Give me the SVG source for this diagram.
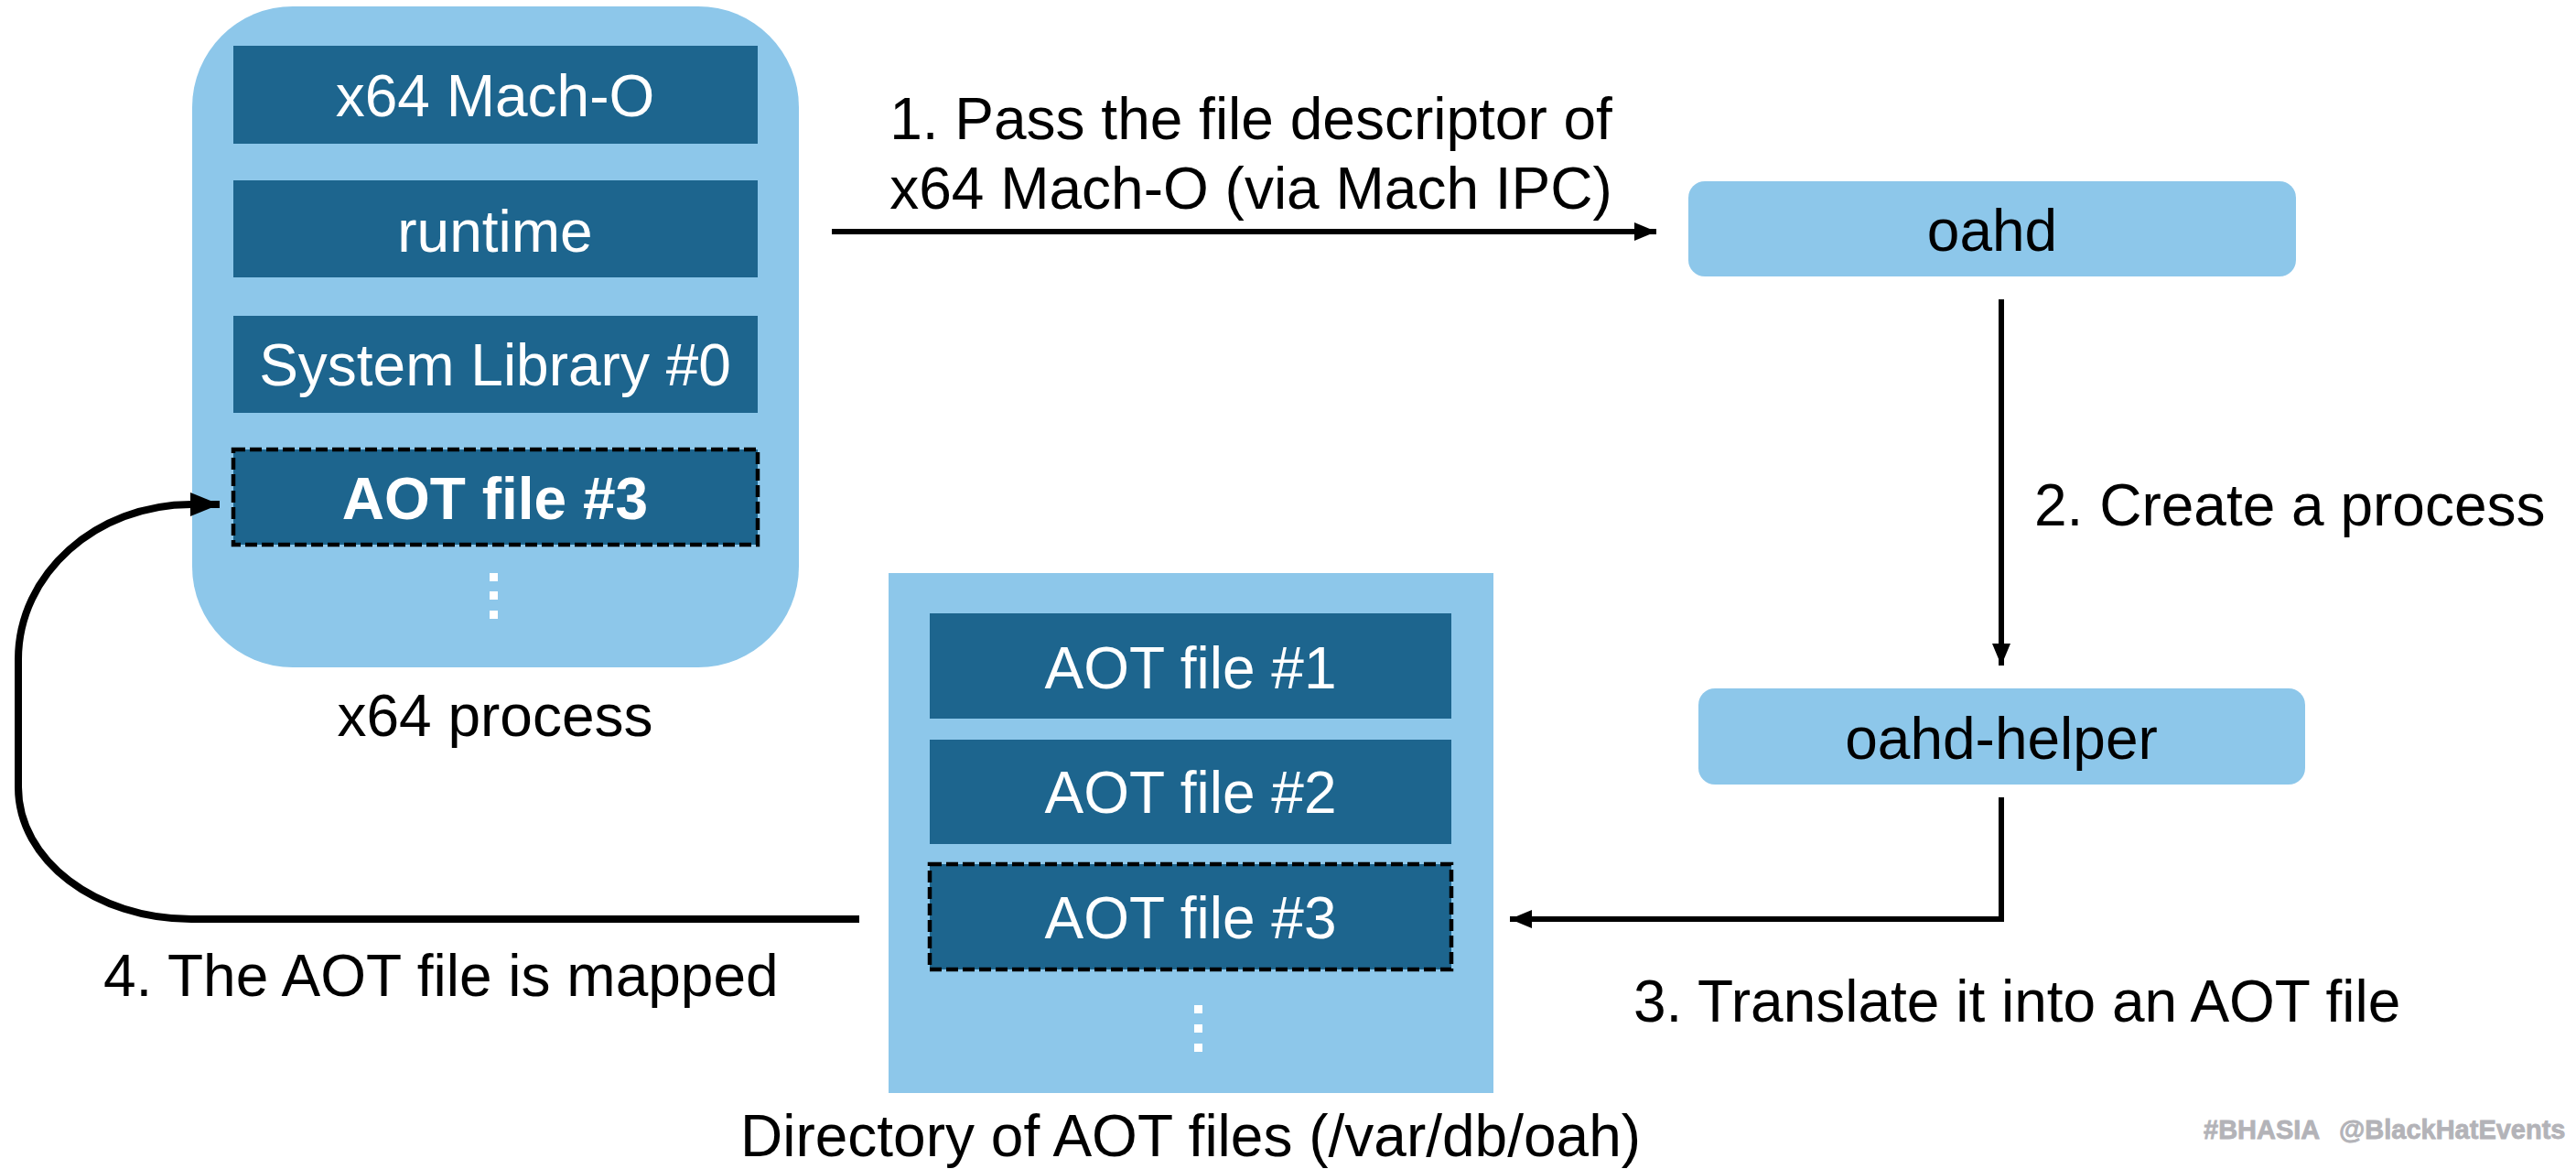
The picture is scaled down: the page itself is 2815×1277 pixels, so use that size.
<svg xmlns="http://www.w3.org/2000/svg" width="2815" height="1277" viewBox="0 0 2815 1277">
<style>
.light{fill:#8DC7EA}
.dark{fill:#1D658E}
.dash{fill:#1D658E;stroke:#000;stroke-width:4.5;stroke-dasharray:13 5}
.w{font-family:"Liberation Sans",Arial,sans-serif;font-size:64px;fill:#fff;text-anchor:middle}
.b{font-family:"Liberation Sans",Arial,sans-serif;font-size:64px;fill:#000}
.c{text-anchor:middle}
.dot{fill:#fff}
.line{fill:none;stroke:#000;stroke-width:6}
.wm{font-family:"Liberation Sans",Arial,sans-serif;font-size:29px;font-weight:bold;fill:#B3B3B8;stroke:#B3B3B8;stroke-width:0.8}
</style>
<defs>
<marker id="ah" markerUnits="userSpaceOnUse" markerWidth="24" markerHeight="20" refX="24" refY="10" orient="auto">
<path d="M0,0 L24,10 L0,20 Z" fill="#000"/>
</marker>
<marker id="ahb" markerUnits="userSpaceOnUse" markerWidth="32" markerHeight="26" refX="32" refY="13" orient="auto">
<path d="M0,0 L32,13 L0,26 Z" fill="#000"/>
</marker>
</defs>

<g id="x64-process">
<rect class="light" x="210" y="7" width="663" height="722" rx="110" ry="110"/>
<g id="mach-o"><rect class="dark" x="255" y="50" width="573" height="107"/><text class="w" x="541" y="127">x64 Mach-O</text></g>
<g id="runtime"><rect class="dark" x="255" y="197" width="573" height="106"/><text class="w" x="541" y="275">runtime</text></g>
<g id="syslib"><rect class="dark" x="255" y="345" width="573" height="106"/><text class="w" x="541" y="421">System Library #0</text></g>
<g id="aot3-mapped"><rect class="dash" x="255" y="491" width="573" height="104"/><text class="w" x="541" y="567" font-weight="bold">AOT file #3</text></g>
<rect class="dot" x="535" y="626" width="9" height="9"/>
<rect class="dot" x="535" y="646" width="9" height="9"/>
<rect class="dot" x="535" y="667" width="9" height="9"/>
<text class="b c" x="541" y="804">x64 process</text>
</g>

<g id="oahd">
<rect class="light" x="1845" y="198" width="664" height="104" rx="18" ry="18"/>
<text class="b c" x="2177" y="274">oahd</text>
</g>

<g id="oahd-helper">
<rect class="light" x="1856" y="752" width="663" height="105" rx="18" ry="18"/>
<text class="b c" x="2187" y="829">oahd-helper</text>
</g>

<g id="aot-directory">
<rect class="light" x="971" y="626" width="661" height="568"/>
<g id="aot1"><rect class="dark" x="1016" y="670" width="570" height="115"/><text class="w" x="1301" y="752">AOT file #1</text></g>
<g id="aot2"><rect class="dark" x="1016" y="808" width="570" height="114"/><text class="w" x="1301" y="888">AOT file #2</text></g>
<g id="aot3"><rect class="dash" x="1016" y="944" width="570" height="115"/><text class="w" x="1301" y="1025">AOT file #3</text></g>
<rect class="dot" x="1305" y="1098" width="9" height="9"/>
<rect class="dot" x="1305" y="1119" width="9" height="9"/>
<rect class="dot" x="1305" y="1140" width="9" height="9"/>
<text class="b c" x="1301" y="1263">Directory of AOT files (/var/db/oah)</text>
</g>

<g id="connectors">
<path class="line" d="M909,253 H1810" marker-end="url(#ah)"/>
<text class="b c" x="1367" y="152">1. Pass the file descriptor of</text>
<text class="b c" x="1367" y="228">x64 Mach-O (via Mach IPC)</text>
<path class="line" d="M2187,327 V727" marker-end="url(#ah)"/>
<text class="b" x="2223" y="574">2. Create a process</text>
<path class="line" d="M2187,871 V1004 H1650" marker-end="url(#ah)"/>
<text class="b" x="1785" y="1116">3. Translate it into an AOT file</text>
<path class="line" style="stroke-width:8" d="M939,1004 H209 C105,1004 20,940 20,860 V720 C20,627 105,551 209,551 H240" marker-end="url(#ahb)"/>
<text class="b" x="113" y="1088">4. The AOT file is mapped</text>
</g>

<text class="wm" x="2408" y="1244">#BHASIA</text>
<text class="wm" x="2556" y="1244">@BlackHatEvents</text>
</svg>
